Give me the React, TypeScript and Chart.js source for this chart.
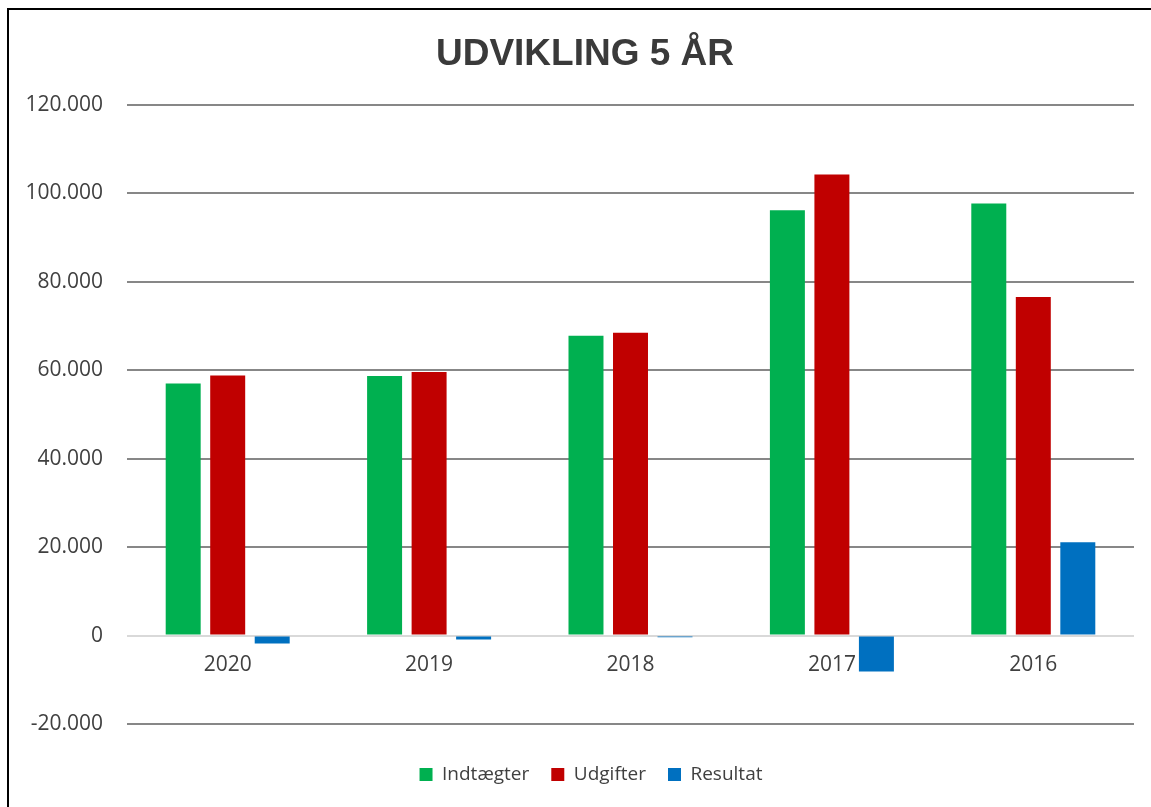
import React, { useEffect, useRef } from "react";
import { Chart, registerables } from "chart.js";

Chart.register(...registerables);

const TITLE = "UDVIKLING 5 ÅR";
const CATEGORIES = ["2020", "2019", "2018", "2017", "2016"];
const INDTAEGTER = [57000, 58700, 67800, 96200, 97700];
const UDGIFTER = [58800, 59600, 68500, 104300, 76600];
const RESULTAT = [-1800, -900, -400, -8100, 21100];
const Y_MIN = -20000;
const Y_MAX = 120000;
const Y_STEP = 20000;

const formatThousands = (v: number) =>
  String(v).replace(/\B(?=(\d{3})+(?!\d))/g, ".");

const shiftBlocks = {
  id: "shiftBlocks",
  afterLayout(chart: any) {
    const t = chart.titleBlock;
    if (t) {
      t.left += 18;
      t.right += 18;
    }
    const l = chart.legend;
    if (l) {
      l.left += 24;
      l.right += 24;
    }
  },
};

export default function App() {
  const canvasRef = useRef<HTMLCanvasElement | null>(null);

  useEffect(() => {
    const canvas = canvasRef.current;
    if (!canvas) return;
    const chart = new Chart(canvas, {
      type: "bar",
      data: {
        labels: CATEGORIES,
        datasets: [
          { label: "Indtægter", data: INDTAEGTER, backgroundColor: "#00B050" },
          { label: "Udgifter", data: UDGIFTER, backgroundColor: "#C00000" },
          { label: "Resultat", data: RESULTAT, backgroundColor: "#0070C0" },
        ],
      },
      plugins: [shiftBlocks],
      options: {
        animation: false,
        responsive: false,
        maintainAspectRatio: false,
        datasets: {
          bar: { categoryPercentage: 0.663, barPercentage: 0.786, borderWidth: 0 },
        },
        layout: { padding: { left: 0, right: 17, top: 0, bottom: 13 } },
        plugins: {
          title: {
            display: true,
            text: TITLE,
            color: "#3a3a3a",
            font: { family: "'Liberation Sans', Arial, sans-serif", size: 37, weight: "bold", lineHeight: 1.2 },
            padding: { top: 32.4, bottom: 28.2 },
          },
          legend: {
            position: "bottom",
            title: { display: true, text: "", padding: 0, font: { size: 19, lineHeight: 1 } },
            labels: {
              boxWidth: 13,
              boxHeight: 13,
              padding: 22,
              color: "#404040",
              font: { family: "'Open Sans', sans-serif", size: 19 },
            },
          },
          tooltip: { enabled: false },
        },
        scales: {
          x: {
            position: { y: 0 } as any,
            grid: { display: false, drawTicks: false },
            border: { display: false },
            ticks: {
              color: "#404040",
              padding: 17,
              font: { family: "'Open Sans', sans-serif", size: 21 },
            },
          },
          y: {
            min: Y_MIN,
            max: Y_MAX,
            afterFit: (s: any) => {
              s.width = 127;
            },
            grid: {
              drawTicks: false,
              lineWidth: 2,
              color: (ctx: any) => (ctx.tick && ctx.tick.value === 0 ? "#d9d9d9" : "#878787"),
            },
            border: { display: false },
            ticks: {
              stepSize: Y_STEP,
              padding: 24,
              color: "#404040",
              font: { family: "'Open Sans', sans-serif", size: 21 },
              callback: (v: any) => formatThousands(Number(v)),
            },
          },
        },
      },
    });
    return () => chart.destroy();
  }, []);

  return (
    <div
      style={{
        position: "fixed",
        left: 0,
        top: 0,
        width: 1151,
        height: 807,
        overflow: "hidden",
        background: "#ffffff",
      }}
    >
      <div
        style={{
          position: "absolute",
          left: 7,
          top: 8,
          width: 2000,
          height: 2000,
          border: "2px solid #000000",
          boxSizing: "border-box",
        }}
      />
      <canvas
        ref={canvasRef}
        width={1151}
        height={807}
        style={{ position: "absolute", left: 0, top: 0, width: 1151, height: 807 }}
      />
    </div>
  );
}
